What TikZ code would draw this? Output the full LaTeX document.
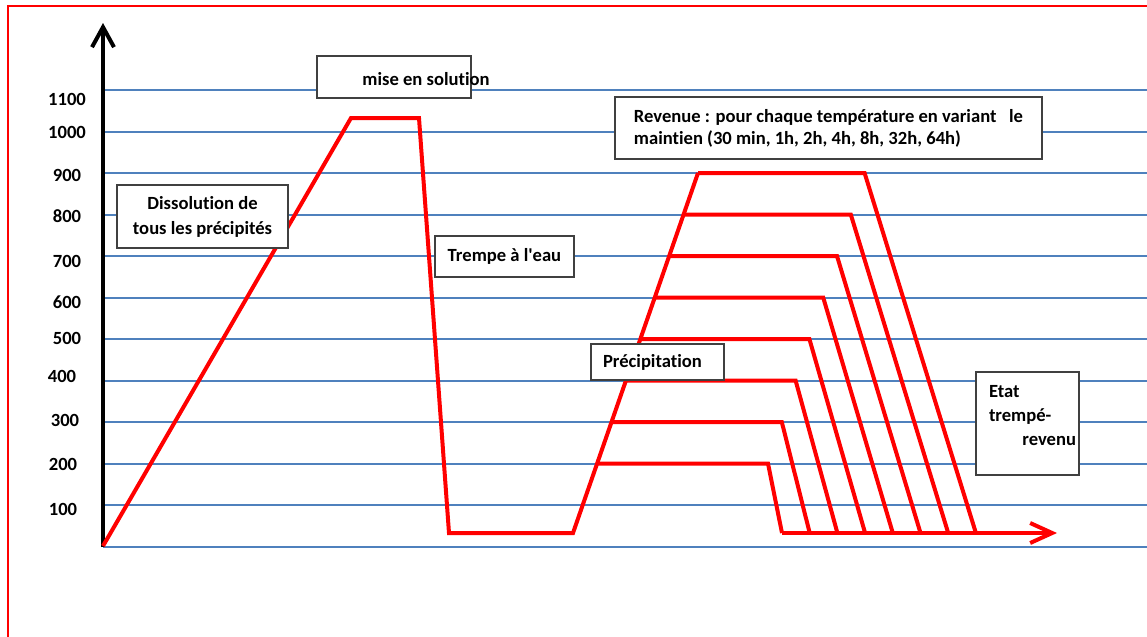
\documentclass[tikz,border=0pt]{standalone}
\usepackage{fontspec}
\setmainfont{Carlito}[Ligatures=NoCommon]
\usepackage{tikz}
\usetikzlibrary{arrows.meta, positioning, calc}
\definecolor{gridblue}{HTML}{4F81BD}
\definecolor{heatred}{HTML}{FF0000}

\begin{document}
\begin{tikzpicture}[x=0.5pt, y=-0.5pt,
  every node/.style={font=\fontsize{9.3}{12}\selectfont\bfseries},
  box/.style   ={draw=black!75, line width=0.75pt, fill=white, inner sep=0pt},
  lbl/.style   ={inner sep=0pt},
  gridln/.style={draw=gridblue, line width=1pt},
  heat/.style  ={draw=heatred, line width=2pt},
  yaxe/.style  ={draw=black, line width=2pt, -{Straight Barb[length=10pt,width=11pt]}},
  frame/.style ={draw=heatred, line width=0.8pt}
]
\useasboundingbox (0,0) rectangle (1147,637);

%% ─── frame and temperature grid ────────────────────────────────────────────
\draw[frame] (8,637) -- (8,6) -- (1147,6);
\foreach \k in {0,...,11}
  \draw[gridln] (103,{546.5-41.5*\k}) -- (1147,{546.5-41.5*\k});

\foreach \v/\x/\y in {1100/67/99, 1000/67/132, 900/67/175, 800/67/216,
                      700/67/261, 600/67/302, 500/67/338, 400/62/376,
                      300/65/420, 200/63/464, 100/63/509}
  \node[lbl] (t\v) at (\x,\y) {\v};

\coordinate (orig) at (103,547);
\coordinate (ytop) at (103,23);
\draw[yaxe] (orig) -- (ytop);

%% ─── mise en solution + trempe ─────────────────────────────────────────────
\draw[heat] (103,546) -- (351,118) -- (419,118) -- (449,533) -- (573,533)
            -- (698,173);

%% ─── revenus ───────────────────────────────────────────────────────────────
\foreach \k in {2,...,9}{
  \pgfmathsetmacro\yy{546.5-41.5*\k}
  \pgfmathsetmacro\xs{573+(533-\yy)/360*125}
  \pgfmathsetmacro\xe{768+(\k-2)*13.8}
  \pgfmathsetmacro\xb{782+(\k-2)*27.7}
  \draw[heat] (\xs,\yy) -- (\xe,\yy) -- (\xb,533);
}
\coordinate (base) at (782,533);
\coordinate (tend) at (1057,533);
\draw[heat, -{Straight Barb[length=11pt,width=10pt]}] (base) -- (tend);

%% ─── boxes ─────────────────────────────────────────────────────────────────
\node[box, minimum width=77pt, minimum height=21pt] (sol) at (394,77) {};
\node[lbl, anchor=west] (sol_t) at (362,79) {mise en solution};

\node[box, minimum width=85.5pt, minimum height=31.5pt, align=center,
      font=\fontsize{9.3}{12.5}\selectfont\bfseries] (diss) at (202.5,216.5)
      {Dissolution de\\tous les précipités};

\node[box, minimum width=69.5pt, minimum height=20.5pt] (trempe) at (504.5,256.5)
      {Trempe à l\textquotesingle eau};

\node[box, minimum width=213.5pt, minimum height=31pt, align=left,
      font=\fontsize{9.3}{11}\selectfont\bfseries] (rev) at (828.5,128)
      {Revenue : pour chaque température en variant\ \ \ le\\
       maintien (30 min, 1h, 2h, 4h, 8h, 32h, 64h)};

\node[box, minimum height=18pt, text width=54.5pt, inner xsep=6pt, align=left]
      (prec) at (657.5,362) {Précipitation};

\node[box, minimum size=51.5pt] (etat) at (1027.5,423.5) {};
\node[lbl, text width=43.5pt, align=left,
      font=\fontsize{9.3}{12}\selectfont\bfseries] (etat_t) at (1032.5,416)
      {Etat\\trempé-\\\hspace*{\fill}revenu};

\end{tikzpicture}
\end{document}
